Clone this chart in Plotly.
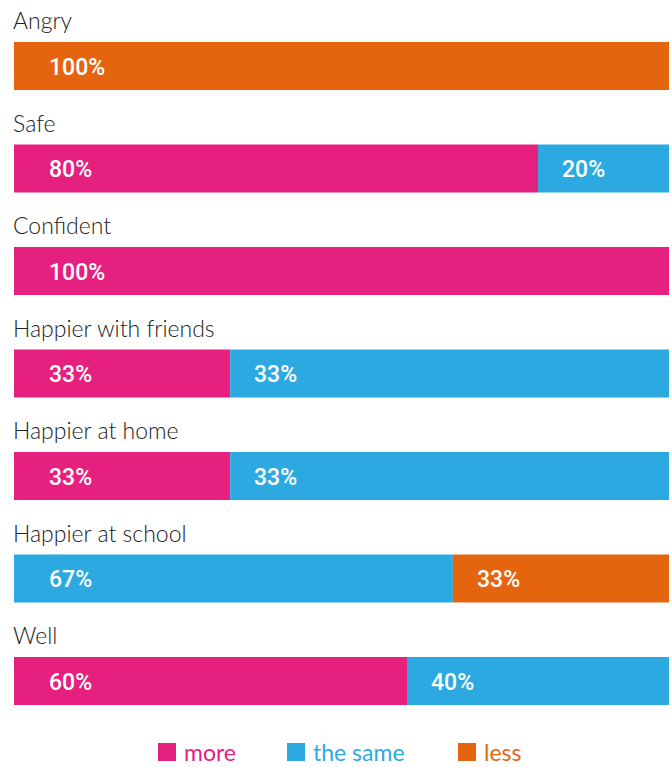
import plotly.graph_objects as go

categories = ["Angry", "Safe", "Confident", "Happier with friends",
              "Happier at home", "Happier at school", "Well"]
series_names = ["more", "the same", "less"]
more = [0, 80, 100, 33, 33, 0, 60]
same = [0, 20, 0, 67, 67, 67, 40]
less = [100, 0, 0, 0, 0, 33, 0]
more_labels = ["", "80%", "100%", "33%", "33%", "", "60%"]
same_labels = ["", "20%", "", "33%", "33%", "67%", "40%"]
less_labels = ["100%", "", "", "", "", "33%", ""]

colors = ["#E5207F", "#2DA9E1", "#E5650F"]
W, H = 672, 767
ML, MR, MT, MB = 14, 3, 0, 50
plot_h = H - MT - MB
plot_w = W - ML - MR
pitch = 102.5
y0 = -66 / pitch
y1 = y0 + plot_h / pitch

fig = go.Figure()
ypos = list(range(len(categories)))
values = [more, same, less]
labels = [more_labels, same_labels, less_labels]
bases = [[0] * len(categories), more, [m + s for m, s in zip(more, same)]]

for name, vals, base, col in zip(series_names, values, bases, colors):
    fig.add_trace(go.Bar(
        y=ypos, x=vals, base=base, orientation="h", name=name,
        marker=dict(color=col, line=dict(width=0)),
        width=48 / pitch, showlegend=False, hoverinfo="skip",
    ))

annotations = []
for i, cat in enumerate(categories):
    annotations.append(dict(
        x=0, xref="paper", y=i, yref="y", yshift=46, xshift=-3,
        text=cat, showarrow=False, xanchor="left", yanchor="middle",
        font=dict(family="Lato", size=23, color="#222222", weight=300),
    ))
    for vals, base, labs in zip(values, bases, labels):
        if vals[i] > 0 and labs[i]:
            annotations.append(dict(
                x=base[i], xref="x", y=i, yref="y", yshift=-1,
                xshift=33 if base[i] == 0 else 22,
                text=labs[i], showarrow=False, xanchor="left", yanchor="middle",
                font=dict(family="Roboto", size=23, color="white", weight=500),
            ))

# legend (manual)
legend_px = [158, 287, 458]
leg_y = (plot_h - 752) / plot_h
sq = 18
shapes = []
for px, name, col in zip(legend_px, series_names, colors):
    x0p = (px - ML) / plot_w
    x1p = (px + sq - ML) / plot_w
    shapes.append(dict(type="rect", xref="paper", yref="paper",
                       x0=x0p, x1=x1p,
                       y0=leg_y - sq / 2 / plot_h, y1=leg_y + sq / 2 / plot_h,
                       fillcolor=col, line=dict(width=0)))
    annotations.append(dict(
        x=(px + sq + 6 - ML) / plot_w, xref="paper", y=leg_y, yref="paper",
        text=name, showarrow=False, xanchor="left", yanchor="middle",
        font=dict(family="Lato", size=23, color=col),
    ))

fig.update_layout(
    width=W, height=H,
    margin=dict(l=ML, r=MR, t=MT, b=MB),
    barmode="overlay",
    paper_bgcolor="white", plot_bgcolor="white",
    xaxis=dict(range=[0, 100], visible=False, fixedrange=True),
    yaxis=dict(range=[y1, y0], visible=False, fixedrange=True),
    annotations=annotations, shapes=shapes,
)

fig.write_html("out.html", config={"displayModeBar": False},
               post_script="document.body.style.margin='0';document.body.style.overflow='hidden';")
